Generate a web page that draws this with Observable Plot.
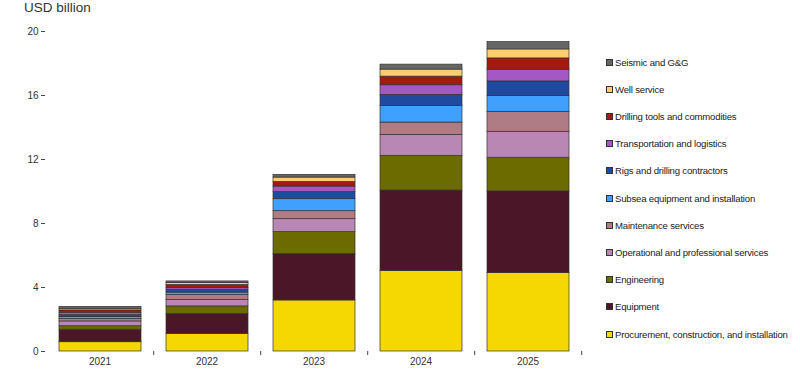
<!DOCTYPE html>
<html>
<head>
<meta charset="utf-8">
<script src="https://cdn.jsdelivr.net/npm/d3@7"></script>
<script src="https://cdn.jsdelivr.net/npm/@observablehq/plot@0.6"></script>
<style>
  html, body { margin: 0; padding: 0; background: #fff; }
  #wrap { position: relative; width: 800px; height: 369px; font-family: "Liberation Sans", Arial, sans-serif; color: #333; }
  #title { position: absolute; left: 24px; top: 0px; font-size: 13.5px; color: #333; }
  #legend { position: absolute; left: 606px; top: 0; }
  .item { position: absolute; white-space: nowrap; font-size: 9.6px; letter-spacing: -0.2px; color: #222; display: flex; align-items: center; height: 14px; }
  .sw { width: 5px; height: 5px; border: 0.8px solid #333; margin-right: 2px; }
</style>
</head>
<body>
<div id="wrap">
  <div id="chart"></div>
  <div id="title">USD billion</div>
  <div id="legend"></div>
</div>
<script>
const years = ["2021", "2022", "2023", "2024", "2025"];
const series = [
  "Procurement, construction, and installation",
  "Equipment",
  "Engineering",
  "Operational and professional services",
  "Maintenance services",
  "Subsea equipment and installation",
  "Rigs and drilling contractors",
  "Transportation and logistics",
  "Drilling tools and commodities",
  "Well service",
  "Seismic and G&G"
];
const colors = ["#f5d800", "#4a1628", "#6b6b00", "#b987b4", "#b07c84", "#3fa0ff", "#1f4aa0", "#a458c4", "#a51a0e", "#ffcc6e", "#666666"];

const procurement = [0.58, 1.10, 3.19, 5.04, 4.90];
const equipment   = [0.78, 1.25, 2.90, 5.02, 5.11];
const engineering = [0.22, 0.47, 1.37, 2.17, 2.10];
const operational = [0.30, 0.40, 0.81, 1.31, 1.62];
const maintenance = [0.15, 0.31, 0.50, 0.77, 1.25];
const subsea      = [0.12, 0.15, 0.75, 1.04, 0.98];
const rigs        = [0.12, 0.18, 0.44, 0.69, 0.92];
const transport   = [0.15, 0.12, 0.35, 0.60, 0.73];
const drilling    = [0.15, 0.18, 0.29, 0.54, 0.71];
const well        = [0.10, 0.12, 0.27, 0.44, 0.56];
const seismic     = [0.12, 0.10, 0.17, 0.31, 0.46];
const yTicks = [0, 4, 8, 12, 16, 20];

const valueArrays = [procurement, equipment, engineering, operational, maintenance, subsea, rigs, transport, drilling, well, seismic];
const data = [];
years.forEach((yr, i) => {
  series.forEach((s, j) => data.push({year: yr, series: s, value: valueArrays[j][i]}));
});

const W = 800, H = 369, mL = 45, mR = 218;
const step = (W - mL - mR) / years.length;

const chart = Plot.plot({
  width: W,
  height: H,
  marginLeft: mL,
  marginRight: mR,
  marginTop: 31,
  marginBottom: 18,
  style: {fontFamily: "Liberation Sans, Arial, sans-serif", fontSize: "10px", color: "#333", background: "#fff"},
  x: {domain: years, padding: 0, label: null},
  y: {domain: [0, 20], label: null},
  color: {domain: series, range: colors},
  marks: [
    Plot.barY(data, {x: "year", y: "value", fill: "series", stroke: "#333", strokeWidth: 0.7, insetLeft: 13, insetRight: 12, order: series}),
    Plot.axisY({ticks: yTicks, tickSize: 4, tickPadding: 3, line: true, stroke: "#444", fill: "#333", label: null}),
    Plot.axisX({tickSize: 0, tickPadding: 6, line: true, stroke: "#444", fill: "#333", label: null}),
    Plot.axisX({tickSize: 4, tickFormat: () => "", dx: step / 2, stroke: "#444", label: null})
  ]
});
document.getElementById("chart").appendChild(chart);

const legend = document.getElementById("legend");
const order = series.slice().reverse();
order.forEach((s, k) => {
  const div = document.createElement("div");
  div.className = "item";
  div.style.top = (55 + k * 27.2) + "px";
  const sw = document.createElement("span");
  sw.className = "sw";
  sw.style.background = colors[series.indexOf(s)];
  const t = document.createElement("span");
  t.textContent = s;
  div.appendChild(sw);
  div.appendChild(t);
  legend.appendChild(div);
});
</script>
</body>
</html>
